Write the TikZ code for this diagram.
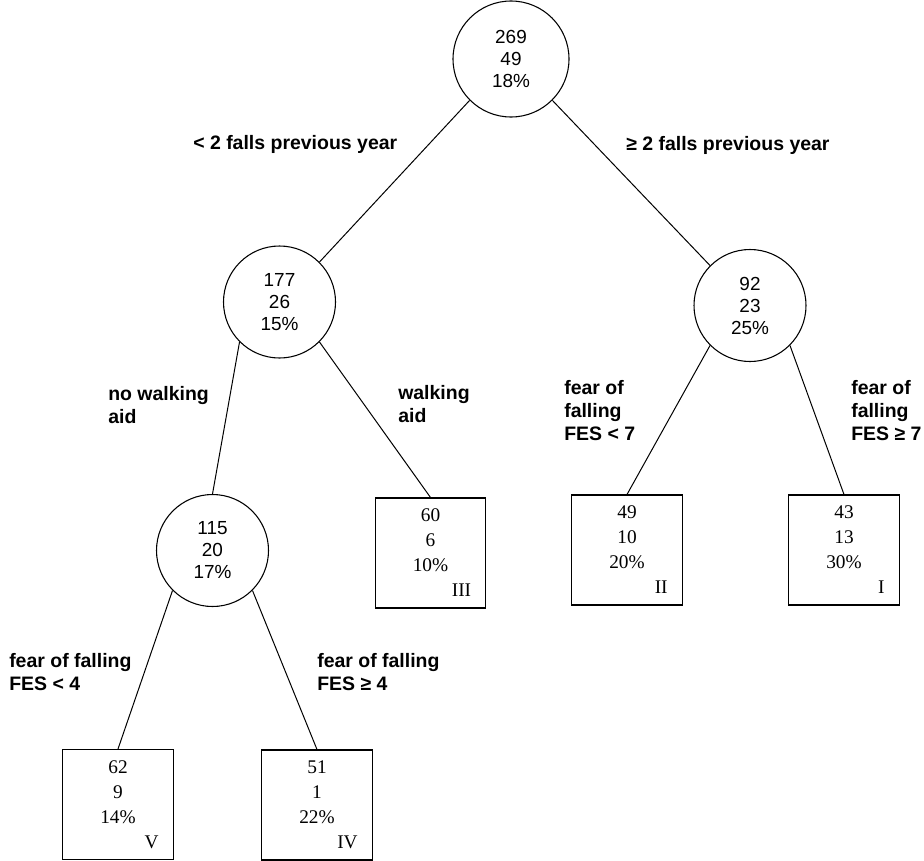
\documentclass[tikz,border=0pt]{standalone}
\usepackage{fontspec}
\setmainfont{Liberation Sans}
\newfontfamily\leaffont{Liberation Serif}
\usepackage{tikz}

\begin{document}
\begin{tikzpicture}[
  x=0.75pt, y=-0.75pt,
  split/.style={draw,circle,line width=0.8pt,minimum size=84pt,inner sep=0pt,align=center,
    font=\fontsize{14.2}{16.5}\selectfont},
  leaf/.style={draw,line width=0.8pt,minimum width=83pt,minimum height=82.5pt,inner sep=0pt,
    text width=61pt,align=center,font=\leaffont\fontsize{14.5}{18.75}\selectfont},
  cond/.style={anchor=west,align=left,inner sep=0pt,font=\bfseries\fontsize{14.6}{17.25}\selectfont},
  edge/.style={line width=0.75pt}
]
\useasboundingbox (0,0) rectangle (924,860);

\node[split, minimum size=87pt] (root) at (511,59) {269\\49\\18\%};
\node[split] (fewfalls) at (279.5,302) {177\\26\\15\%};
\node[split] (manyfalls) at (750,305.5) {92\\23\\25\%};
\node[split] (noaid) at (212.5,550.5) {115\\20\\17\%};

\node[leaf] (aid) at (430.5,553) {60\\6\\10\%\\\hspace*{\fill}III};
\node[leaf] (fesLow7) at (627,550) {49\\10\\20\%\\\hspace*{\fill}II};
\node[leaf] (fesHigh7) at (844,550) {43\\13\\30\%\\\hspace*{\fill}I};
\node[leaf] (fesLow4) at (118,804.5) {62\\9\\14\%\\\hspace*{\fill}V};
\node[leaf] (fesHigh4) at (317,805) {51\\1\\22\%\\\hspace*{\fill}IV};

\draw[edge] (root.225) -- (fewfalls.45);
\draw[edge] (root.315) -- (manyfalls.135);
\draw[edge] (fewfalls.225) -- (noaid.north);
\draw[edge] (fewfalls.315) -- (aid.north);
\draw[edge] (manyfalls.225) -- (fesLow7.north);
\draw[edge] (manyfalls.315) -- (fesHigh7.north);
\draw[edge] (noaid.225) -- (fesLow4.north);
\draw[edge] (noaid.315) -- (fesHigh4.north);

\node[cond] (lblFew) at (193,144) {< 2 falls previous year};
\node[cond] (lblMany) at (626,145) {≥ 2 falls previous year};
\node[cond] (lblNoAid) at (108,405) {no walking\\aid};
\node[cond] (lblAid) at (398,404) {walking\\aid};
\node[cond] (lblLow7) at (564,411) {fear of\\falling\\FES < 7};
\node[cond] (lblHigh7) at (851,411) {fear of\\falling\\FES ≥ 7};
\node[cond] (lblLow4) at (9,672) {fear of falling\\FES < 4};
\node[cond] (lblHigh4) at (317,672) {fear of falling\\FES ≥ 4};
\end{tikzpicture}
\end{document}
